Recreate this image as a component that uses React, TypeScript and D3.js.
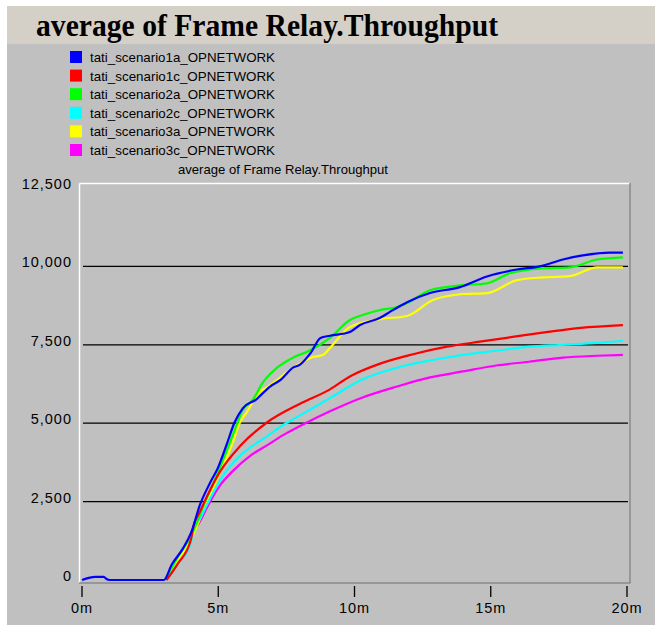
import React from "react";
import * as d3 from "d3";

// Series values: [minutes, throughput]
const scenario1a: [number, number][] = [
  [0, 0], [0.25, 70], [0.5, 100], [0.8, 100], [0.9, 30], [1.0, 0], [3.0, 0],
  [3.3, 500], [3.7, 1000], [4.0, 1500], [4.33, 2400], [4.7, 3100], [5.0, 3600],
  [5.3, 4300], [5.6, 5030], [5.9, 5475], [6.4, 5760], [6.9, 6170], [7.3, 6390],
  [7.74, 6770], [8.0, 6870], [8.4, 7250], [8.75, 7720], [9.1, 7790], [9.83, 7910],
  [10.2, 8130], [10.94, 8360], [11.3, 8550], [11.93, 8860], [12.77, 9150],
  [13.87, 9340], [14.86, 9680], [15.96, 9900], [16.8, 10000], [17.65, 10220],
  [18.38, 10350], [19.37, 10440], [19.85, 10440],
];
const scenario1c: [number, number][] = [
  [3.1, 0], [3.5, 500], [4.0, 1300], [4.1, 1740], [4.33, 2180], [4.6, 2690],
  [5.06, 3450], [5.8, 4270], [6.8, 5030], [8.0, 5620], [9.1, 6080], [9.83, 6490],
  [10.94, 6900], [12.15, 7200], [13.4, 7440], [14.6, 7600], [15.8, 7750],
  [17.1, 7910], [18.3, 8040], [19.85, 8130],
];
const scenario2a: [number, number][] = [
  [3.05, 0], [3.5, 700], [4.0, 1400], [4.5, 2450], [5.0, 3450], [5.5, 4550],
  [5.7, 5000], [5.85, 5350], [6.28, 5760], [6.64, 6300], [7.16, 6770], [7.74, 7090],
  [8.26, 7280], [8.73, 7500], [9.1, 7720], [9.83, 8290], [10.3, 8450], [10.94, 8610],
  [11.56, 8700], [11.93, 8830], [12.77, 9240], [13.98, 9400], [14.86, 9460],
  [15.7, 9780], [16.9, 9940], [17.9, 9970], [18.9, 10220], [19.85, 10290],
];
const scenario2c: [number, number][] = [
  [3.1, 0], [3.5, 500], [4.0, 1200], [4.08, 1650], [4.33, 1960], [4.7, 2600],
  [5.17, 3320], [5.8, 3960], [6.8, 4590], [7.4, 4950], [8.0, 5250], [9.1, 5800],
  [10.3, 6400], [11.56, 6770], [12.77, 7000], [13.98, 7180], [15.2, 7310],
  [16.4, 7440], [17.65, 7500], [18.9, 7560], [19.85, 7630],
];
const scenario3a: [number, number][] = [
  [3.1, 0], [3.5, 600], [4.0, 1300], [4.5, 2300], [5.0, 3300], [5.5, 4300],
  [5.8, 5030], [6.05, 5350], [6.5, 5980], [6.84, 6170], [7.8, 6800], [8.4, 7090],
  [8.85, 7180], [9.1, 7400], [9.83, 8070], [10.94, 8320], [11.93, 8420],
  [12.88, 8930], [13.98, 9120], [14.86, 9150], [15.96, 9560], [16.9, 9650],
  [17.9, 9690], [18.9, 9970], [19.85, 9970],
];
const scenario3c: [number, number][] = [
  [4.04, 1490], [4.33, 1870], [4.7, 2500], [5.06, 3010], [5.54, 3480], [6.17, 3960],
  [6.8, 4300], [7.38, 4620], [8.0, 4910], [9.1, 5380], [10.2, 5790], [11.56, 6170],
  [12.77, 6460], [13.98, 6650], [15.2, 6840], [16.4, 6960], [17.65, 7090],
  [18.9, 7150], [19.85, 7180],
];

const seriesNames = [
  "tati_scenario1a_OPNETWORK",
  "tati_scenario1c_OPNETWORK",
  "tati_scenario2a_OPNETWORK",
  "tati_scenario2c_OPNETWORK",
  "tati_scenario3a_OPNETWORK",
  "tati_scenario3c_OPNETWORK",
];
const seriesData = [scenario1a, scenario1c, scenario2a, scenario2c, scenario3a, scenario3c];
const colors = ["#0000ff", "#ff0000", "#00ff00", "#00ffff", "#ffff00", "#ff00ff"];

const yTicks = [0, 2500, 5000, 7500, 10000, 12500];
const xTicks = [0, 5, 10, 15, 20];

const App = () => {
  const width = 655;
  const height = 626;

  const x = d3.scaleLinear().domain([0, 20]).range([82, 627]);
  const y = d3.scaleLinear().domain([0, 12500]).range([580, 188]);
  const line = d3
    .line<[number, number]>()
    .x((d) => x(d[0]))
    .y((d) => y(d[1]))
    .curve(d3.curveMonotoneX);
  const fmt = d3.format(",");

  const sans = "'Liberation Sans', Arial, sans-serif";

  return (
    <svg
      width={width}
      height={height}
      style={{ position: "absolute", left: 0, top: 0, background: "#fff" }}
    >
      {/* panel */}
      <rect x={7} y={6} width={648} height={619} fill="#c0c0c0" />
      <rect x={7} y={6} width={648} height={38} fill="#d4d0c8" />
      <text
        x={36}
        y={36}
        fontFamily="'Liberation Serif', 'Times New Roman', serif"
        fontWeight="bold"
        fontSize={32}
        textLength={462}
        lengthAdjust="spacingAndGlyphs"
        fill="#000"
      >
        average of Frame Relay.Throughput
      </text>

      {/* legend */}
      {seriesNames.map((name, i) => (
        <g key={name} transform={`translate(0,${57 + i * 18.6})`}>
          <rect x={70} y={-6} width={12} height={12} fill={colors[i]} />
          <text
            x={90}
            y={5}
            fontFamily={sans}
            fontSize={13.5}
            textLength={185}
            lengthAdjust="spacingAndGlyphs"
            fill="#000"
          >
            {name}
          </text>
        </g>
      ))}
      <text
        x={283}
        y={174}
        textAnchor="middle"
        fontFamily={sans}
        fontSize={13.5}
        textLength={210}
        lengthAdjust="spacingAndGlyphs"
        fill="#000"
      >
        average of Frame Relay.Throughput
      </text>

      {/* plot frame */}
      <line x1={79.5} y1={183.5} x2={630} y2={183.5} stroke="#fff" strokeWidth={1.5} />
      <line x1={79.5} y1={183.5} x2={79.5} y2={583} stroke="#fff" strokeWidth={1.5} />
      <line x1={630} y1={183} x2={630} y2={583} stroke="#8a8a8a" strokeWidth={1.5} />
      <line x1={79} y1={583} x2={630.5} y2={583} stroke="#8a8a8a" strokeWidth={1.5} />

      {/* grid */}
      {yTicks.slice(1, 5).map((t) => (
        <line key={t} x1={83} x2={628} y1={y(t)} y2={y(t)} stroke="#000" strokeWidth={1.3} />
      ))}

      {/* y labels */}
      {yTicks.map((t) => (
        <text
          key={t}
          x={72}
          y={y(t) + 1}
          textAnchor="end"
          fontFamily={sans}
          fontSize={14.5}
          letterSpacing={1}
          fill="#000"
        >
          {fmt(t)}
        </text>
      ))}

      {/* x ticks */}
      {xTicks.map((t) => (
        <g key={t}>
          <line x1={x(t)} x2={x(t)} y1={586} y2={597} stroke="#000" strokeWidth={1.3} />
          <text
            x={x(t)}
            y={613}
            textAnchor="middle"
            fontFamily={sans}
            fontSize={14.5}
            letterSpacing={1}
            fill="#000"
          >
            {t}m
          </text>
        </g>
      ))}

      {/* series, first one on top */}
      {seriesData
        .map((d, i) => ({ d, i }))
        .reverse()
        .map(({ d, i }) => (
          <path
            key={i}
            d={line(d) || ""}
            fill="none"
            stroke={colors[i]}
            strokeWidth={2.2}
            strokeLinejoin="round"
          />
        ))}
    </svg>
  );
};

export default App;
